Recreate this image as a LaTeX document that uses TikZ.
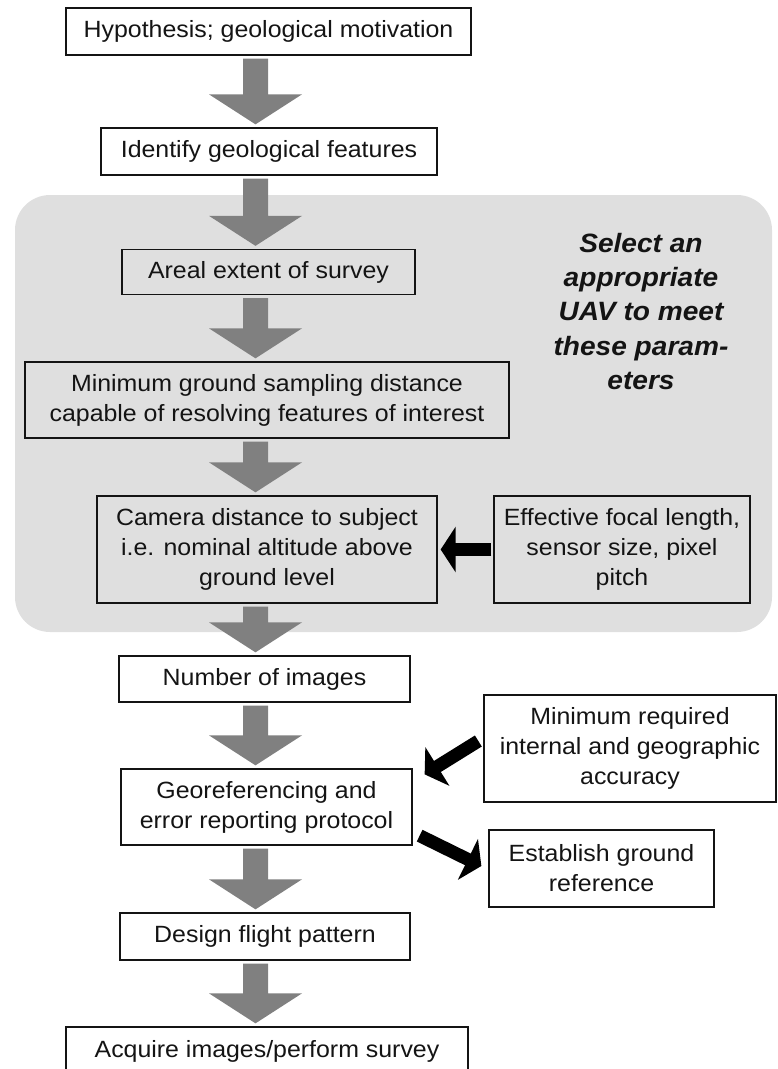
\documentclass[tikz,border=0pt]{standalone}
\usepackage{fontspec}
\setmainfont{Liberation Sans}[FakeStretch=1.06]
\usetikzlibrary{arrows.meta,calc}
\definecolor{regiongray}{RGB}{223,223,223}
\definecolor{arrowgray}{RGB}{128,128,128}
\definecolor{inkcol}{RGB}{20,20,20}
\newcommand\grayarrow[2]{%
  \path[fill=arrowgray] let \p1=(#1.south), \p2=(#2.north) in
    (243pt,\y1-3pt) -- (268pt,\y1-3pt) -- (268pt,\y2+33pt) -- (302pt,\y2+33pt)
    -- (255.5pt,\y2+3pt) -- (209pt,\y2+33pt) -- (243pt,\y2+33pt) -- cycle;}
\begin{document}
\begin{tikzpicture}[x=1pt,y=1pt,
  box/.style={draw=inkcol, line width=1.3pt, align=center, inner sep=0pt,
    font=\fontsize{23.5}{30}\selectfont, text=inkcol},
  barrow/.style={draw=black, line width=13pt, -{Triangle[width=45pt,length=15pt]}},
  titletext/.style={font=\bfseries\itshape\fontsize{26.5}{34.3}\selectfont, align=center, text=inkcol}]
\useasboundingbox (0,0) rectangle (777,-1069);
\clip (0,0) rectangle (777,-1069);
% grey region
\fill[regiongray, rounded corners=35pt] (15,-195) rectangle (772,-632);
% boxes
\node[box, minimum width=405pt, minimum height=47pt] (hyp) at (268.5,-31.5) {Hypothesis; geological motivation};
\node[box, minimum width=336pt, minimum height=47pt] (ident) at (269,-151.5) {Identify geological features};
\node[box, minimum width=293pt, minimum height=45pt] (areal) at (268.5,-272) {Areal extent of survey};
\node[box, minimum width=484pt, minimum height=76pt] (gsd) at (267,-400) {Minimum ground sampling distance\\capable of resolving features of interest};
\node[box, minimum width=340pt, minimum height=107pt] (cam) at (267,-549.5) {Camera distance to subject\\i.e. nominal altitude above\\ground level};
\node[box, minimum width=256pt, minimum height=107pt] (eff) at (622,-549.5) {Effective focal length,\\sensor size, pixel\\pitch};
\node[box, minimum width=291pt, minimum height=46pt] (num) at (264.5,-679) {Number of images};
\node[box, minimum width=291pt, minimum height=76pt] (geo) at (266.5,-807) {Georeferencing and\\error reporting protocol};
\node[box, minimum width=292pt, minimum height=107pt] (minreq) at (630,-748.5) {Minimum required\\internal and geographic\\accuracy};
\node[box, minimum width=225pt, minimum height=77pt] (est) at (601.5,-868.5) {Establish ground\\reference};
\node[box, minimum width=290pt, minimum height=47pt] (design) at (265,-936.5) {Design flight pattern};
\node[box, minimum width=402pt, minimum height=48pt] (acq) at (267,-1051) {Acquire images/perform survey};
% title
\node[titletext] (title) at (641,-311.5) {Select an\\appropriate\\UAV to meet\\these param-\\eters};
% grey arrows
\grayarrow{hyp}{ident}
\grayarrow{ident}{areal}
\grayarrow{areal}{gsd}
\grayarrow{gsd}{cam}
\grayarrow{cam}{num}
\grayarrow{num}{geo}
\grayarrow{geo}{design}
\grayarrow{design}{acq}
% black arrows
\draw[barrow] ($(eff.west)+(-2pt,0)$) -- ($(cam.east)+(3pt,0)$);
\draw[barrow] ($(minreq.west)+(-5pt,7.5pt)$) -- ($(geo.north east)+(12pt,-6pt)$);
\draw[barrow] ($(geo.south east)+(7pt,10pt)$) -- ($(est.west)+(-7pt,2.5pt)$);
\end{tikzpicture}
\end{document}
